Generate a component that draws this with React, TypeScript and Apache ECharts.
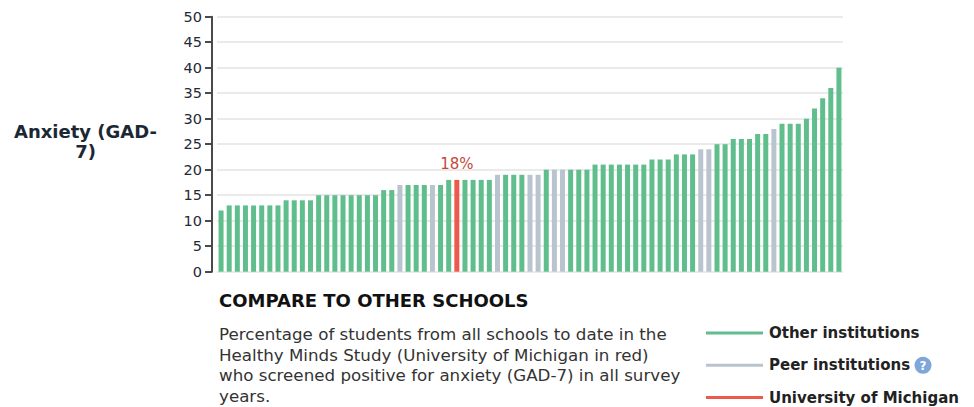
import React, { useEffect, useRef } from "react";
import * as echarts from "echarts";

// Bar values (% screened positive for anxiety), sorted ascending
const values: number[] = [
  12, 13, 13, 13, 13, 13, 13, 13, 14, 14, 14, 14, 15, 15, 15, 15, 15, 15, 15, 15,
  16, 16, 17, 17, 17, 17, 17, 17, 18, 18, 18, 18, 18, 18, 19, 19, 19, 19, 19, 19,
  20, 20, 20, 20, 20, 20, 21, 21, 21, 21, 21, 21, 21, 22, 22, 22, 23, 23, 23, 24,
  24, 25, 25, 26, 26, 26, 27, 27, 28, 29, 29, 29, 30, 32, 34, 36, 40,
];
// o = other institution, p = peer institution, u = University of Michigan
const kinds: string[] = [
  "o", "o", "o", "o", "o", "o", "o", "o", "o", "o", "o", "o", "o", "o", "o", "o", "o", "o", "o", "o",
  "o", "o", "p", "o", "o", "o", "p", "o", "o", "u", "o", "o", "o", "o", "p", "o", "o", "o", "p", "p",
  "o", "p", "p", "o", "o", "o", "o", "o", "o", "o", "o", "o", "o", "o", "o", "o", "o", "o", "o", "p",
  "p", "o", "o", "o", "o", "o", "o", "o", "p", "o", "o", "o", "o", "o", "o", "o", "o",
];
const yTicks: number[] = [0, 5, 10, 15, 20, 25, 30, 35, 40, 45, 50];
const legendLabels: string[] = ["Other institutions", "Peer institutions", "University of Michigan"];
const rowLabel = ["Anxiety (GAD-", "7)"];
const heading = "COMPARE TO OTHER SCHOOLS";
const description: string[] = [
  "Percentage of students from all schools to date in the",
  "Healthy Minds Study (University of Michigan in red)",
  "who screened positive for anxiety (GAD-7) in all survey",
  "years.",
];

const COLORS: Record<string, string> = { o: "#5fbe8b", p: "#b9c4ce", u: "#ec5a4c" };
const FONT = "DejaVu Sans, Verdana, sans-serif";

export default function App() {
  const ref = useRef<HTMLDivElement>(null);
  useEffect(() => {
    document.body.style.margin = "0";
    const chart = echarts.init(ref.current!, null, { renderer: "svg" });
    const data = values.map((v, i) => ({
      value: v,
      itemStyle: { color: COLORS[kinds[i]] },
      label:
        kinds[i] === "u"
          ? {
              show: true,
              position: "top",
              distance: 8,
              formatter: "{c}%",
              color: "#c24a3a",
              fontSize: 15,
              fontFamily: FONT,
            }
          : { show: false },
    }));
    const legendColors = [COLORS.o, COLORS.p, COLORS.u];
    const graphic: any[] = [];
    rowLabel.forEach((t, i) => {
      graphic.push({
        type: "text",
        x: 85.5,
        y: 131 + i * 20,
        style: {
          text: t,
          align: "center",
          verticalAlign: "middle",
          font: `bold 18px ${FONT}`,
          fill: "#1b2733",
        },
      });
    });
    graphic.push({
      type: "text",
      x: 219,
      y: 300,
      style: {
        text: heading,
        verticalAlign: "middle",
        font: `bold 18px ${FONT}`,
        fill: "#111",
      },
    });
    description.forEach((t, i) => {
      graphic.push({
        type: "text",
        x: 219,
        y: 334 + i * 20.5,
        style: {
          text: t,
          verticalAlign: "middle",
          font: `16.7px ${FONT}`,
          fill: "#333",
        },
      });
    });
    legendLabels.forEach((t, i) => {
      const y = 333 + i * 32.3;
      graphic.push({
        type: "line",
        shape: { x1: 706, y1: y, x2: 763, y2: y },
        style: { stroke: legendColors[i], lineWidth: 3 },
      });
      graphic.push({
        type: "text",
        x: 769,
        y: y,
        style: {
          text: t,
          verticalAlign: "middle",
          font: `bold 15px ${FONT}`,
          fill: "#222",
        },
      });
    });
    graphic.push({
      type: "circle",
      shape: { cx: 923, cy: 365.3, r: 8.5 },
      style: { fill: "#7ea6d8" },
    });
    graphic.push({
      type: "text",
      x: 923,
      y: 365.8,
      style: {
        text: "?",
        align: "center",
        verticalAlign: "middle",
        font: `bold 12px ${FONT}`,
        fill: "#fff",
      },
    });

    chart.setOption({
      animation: false,
      grid: { left: 217, right: 131, top: 16.7, bottom: 135.3, containLabel: false },
      xAxis: {
        type: "category",
        data: values.map((_, i) => String(i + 1)),
        axisLine: { show: false },
        axisTick: { show: false },
        axisLabel: { show: false },
      },
      yAxis: {
        type: "value",
        min: yTicks[0],
        max: yTicks[yTicks.length - 1],
        interval: 5,
        offset: 5,
        axisLine: { show: true, lineStyle: { color: "#4a4a4a", width: 2 } },
        axisTick: { show: true, length: 7, lineStyle: { color: "#4a4a4a", width: 2 } },
        axisLabel: { margin: 10, color: "#1f2a36", fontSize: 14.5, fontFamily: FONT },
        splitLine: { show: true, lineStyle: { color: "#e3e3e3", width: 1.5 } },
      },
      series: [
        {
          type: "bar",
          data,
          barWidth: 5,
        },
      ],
      graphic,
    });
    return () => chart.dispose();
  }, []);
  return (
    <div
      ref={ref}
      style={{ position: "absolute", left: 0, top: 0, width: 974, height: 407, background: "#fff" }}
    />
  );
}
